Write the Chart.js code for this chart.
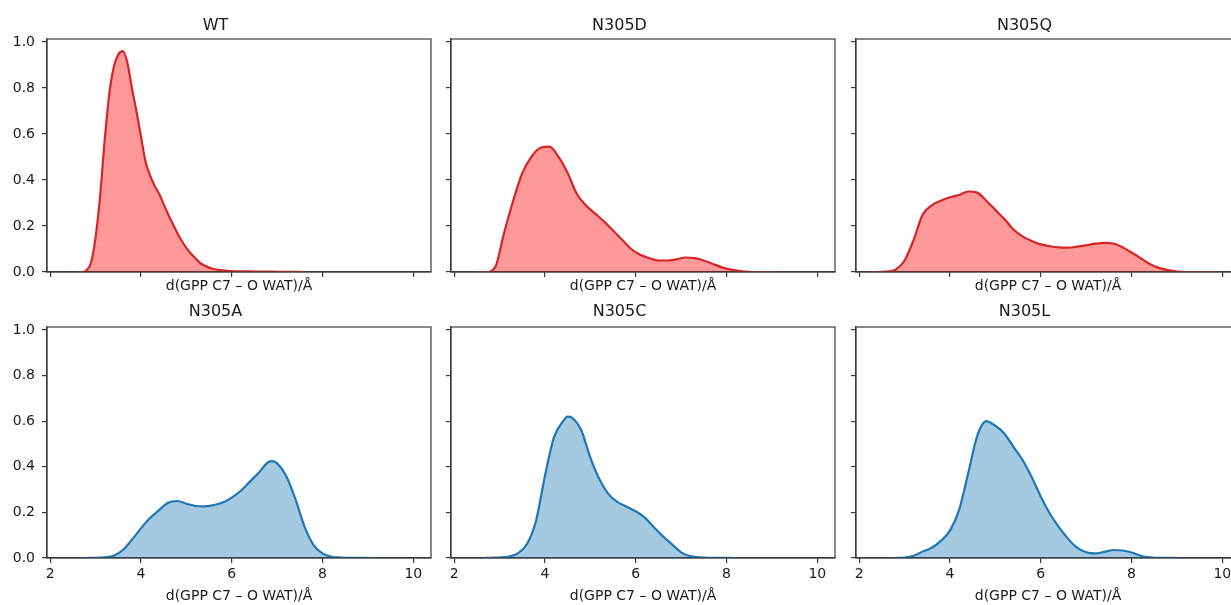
<!DOCTYPE html>
<html><head><meta charset="utf-8">
<script src="https://cdn.jsdelivr.net/npm/chart.js@4/dist/chart.umd.min.js"></script>
<style>
html,body{margin:0;padding:0;background:#fff;overflow:hidden;width:1231px;height:605px;position:relative}
canvas{position:absolute}
</style></head><body>
<script>
// ---- data ----
const titles = ["WT", "N305D", "N305Q", "N305A", "N305C", "N305L"];
const xTicks = [2, 4, 6, 8, 10];
const yTicks = [0, 0.2, 0.4, 0.6, 0.8, 1.0];
const xLabel = "d(GPP C7 – O WAT)/Å";

const wtX = [2.6,2.7,2.8,2.9,3.0,3.1,3.2,3.3,3.4,3.5,3.6,3.7,3.8,3.9,4.0,4.1,4.2,4.3,4.4,4.5,4.6,4.7,4.8,4.9,5.0,5.1,5.2,5.3,5.4,5.5,5.6,5.8,6.0,6.5,7.0,7.6];
const wtY = [0,0,0.008,0.04,0.15,0.33,0.57,0.77,0.89,0.945,0.96,0.91,0.80,0.70,0.59,0.48,0.42,0.375,0.34,0.295,0.25,0.21,0.17,0.135,0.105,0.08,0.06,0.04,0.028,0.019,0.013,0.007,0.004,0.002,0.001,0];

const n305dX = [2.5,2.7,2.9,3.1,3.3,3.5,3.7,3.9,4.1,4.3,4.5,4.7,4.9,5.1,5.3,5.5,5.7,5.9,6.1,6.3,6.5,6.7,6.9,7.1,7.3,7.5,7.7,7.9,8.1,8.3,8.5,8.7,9.05];
const n305dY = [0,0,0.02,0.17,0.31,0.43,0.50,0.54,0.545,0.50,0.43,0.34,0.29,0.255,0.22,0.18,0.14,0.10,0.075,0.06,0.05,0.05,0.055,0.063,0.06,0.05,0.035,0.02,0.01,0.004,0.001,0,0];

const n305qX = [2.25,2.4,2.6,2.8,3.0,3.2,3.4,3.6,3.8,4.0,4.2,4.4,4.6,4.8,5.0,5.2,5.4,5.6,5.8,6.0,6.2,6.4,6.6,6.8,7.0,7.2,7.4,7.6,7.8,8.0,8.2,8.4,8.6,8.8,9.0,9.2,9.9];
const n305qY = [0,0,0.002,0.01,0.05,0.14,0.25,0.29,0.31,0.325,0.335,0.35,0.345,0.31,0.27,0.23,0.185,0.155,0.135,0.12,0.112,0.107,0.106,0.11,0.116,0.123,0.127,0.124,0.108,0.085,0.06,0.035,0.018,0.008,0.002,0,0];

const n305aX = [2.75,3.0,3.2,3.4,3.6,3.8,4.0,4.2,4.4,4.6,4.8,5.0,5.2,5.4,5.6,5.8,6.0,6.2,6.4,6.6,6.8,6.9,7.0,7.2,7.4,7.6,7.8,8.0,8.2,8.4,8.6,9.1];
const n305aY = [0,0.001,0.003,0.01,0.035,0.08,0.13,0.175,0.21,0.242,0.25,0.238,0.228,0.226,0.232,0.243,0.265,0.295,0.335,0.375,0.42,0.425,0.415,0.36,0.26,0.14,0.058,0.02,0.005,0.002,0.001,0];

const n305cX = [2.65,2.8,3.0,3.2,3.4,3.6,3.8,4.0,4.2,4.4,4.5,4.6,4.8,5.0,5.2,5.4,5.6,5.8,6.0,6.2,6.4,6.6,6.8,7.0,7.2,7.4,7.6,8.2];
const n305cY = [0,0.001,0.002,0.006,0.02,0.06,0.16,0.36,0.53,0.60,0.62,0.615,0.56,0.44,0.345,0.28,0.245,0.225,0.205,0.177,0.135,0.095,0.06,0.025,0.008,0.003,0.001,0];

const n305lX = [2.75,3.0,3.2,3.4,3.6,3.8,4.0,4.2,4.4,4.6,4.8,5.0,5.2,5.4,5.6,5.8,6.0,6.2,6.4,6.6,6.8,7.0,7.2,7.4,7.6,7.8,8.0,8.2,8.4,8.6,9.05];
const n305lY = [0,0.002,0.01,0.028,0.045,0.075,0.12,0.21,0.37,0.535,0.60,0.58,0.545,0.487,0.43,0.355,0.27,0.195,0.135,0.085,0.045,0.025,0.02,0.027,0.035,0.033,0.024,0.01,0.003,0.001,0];

const panelX = [wtX, n305dX, n305qX, n305aX, n305cX, n305lX];
const panelY = [wtY, n305dY, n305qY, n305aY, n305cY, n305lY];

// ---- layout / style ----
const RED = {line: '#d42626', fill: 'rgba(255,0,0,0.4)'};
const BLUE = {line: '#1f77b4', fill: 'rgba(31,119,180,0.4)'};
const colLeft = [47, 451, 856];
const plotW = 384;
const TITLE_SIZE = 16, TICK_SIZE = 14, LABEL_SIZE = 14;
const rows = [
  {top: 0, titleTop: 16, titleBottom: 3.8, plotH: 233, axisH: 23},
  {top: 288, titleTop: 14.1, titleBottom: 5.7, plotH: 231, axisH: 47}
];
const YW = 47, RP = 14;
const FONT = "'DejaVu Sans', sans-serif";
const TXT = '#1a1a1a';
const FRAME = '#3a3a3a';

const framePlugin = {
  id: 'frame',
  afterDatasetsDraw(chart) {
    const {ctx, chartArea: a} = chart;
    ctx.save();
    ctx.strokeStyle = FRAME;
    ctx.lineWidth = 1.2;
    ctx.strokeRect(a.left, a.top, a.right - a.left, a.bottom - a.top);
    ctx.restore();
  }
};

for (let i = 0; i < 6; i++) {
  const r = Math.floor(i / 3), c = i % 3;
  const row = rows[r];
  const titleH = Math.round(TITLE_SIZE * 1.2 + row.titleTop + row.titleBottom);
  const cv = document.createElement('canvas');
  const w = YW + plotW + RP;
  const h = titleH + row.plotH + row.axisH;
  cv.width = w; cv.height = h;
  cv.style.left = (colLeft[c] - YW) + 'px';
  cv.style.top = row.top + 'px';
  cv.style.width = w + 'px'; cv.style.height = h + 'px';
  document.body.appendChild(cv);
  const col = r === 0 ? RED : BLUE;
  const xs = panelX[i], ys = panelY[i];
  new Chart(cv, {
    type: 'line',
    data: {
      datasets: [{
        data: xs.map((x, k) => ({x: x, y: ys[k]})),
        borderColor: col.line,
        backgroundColor: col.fill,
        borderWidth: 2.2,
        fill: 'origin',
        pointRadius: 0,
        cubicInterpolationMode: 'monotone'
      }]
    },
    options: {
      responsive: false,
      animation: false,
      layout: {padding: {left: 0, right: RP, top: 0, bottom: 0}},
      plugins: {
        legend: {display: false},
        tooltip: {enabled: false},
        title: {
          display: true, text: titles[i], color: TXT,
          font: {family: FONT, size: TITLE_SIZE, weight: 'normal', lineHeight: 1.2},
          padding: {top: row.titleTop, bottom: row.titleBottom}
        }
      },
      scales: {
        x: {
          type: 'linear', min: 1.93, max: 10.39,
          afterBuildTicks: s => { s.ticks = xTicks.map(v => ({value: v})); },
          afterFit: s => { s.height = row.axisH; },
          ticks: {display: r === 1, color: TXT, padding: 3, font: {family: FONT, size: TICK_SIZE}, callback: v => String(v)},
          grid: {display: true, drawOnChartArea: false, drawTicks: true, tickLength: 5, color: FRAME, lineWidth: 1.2},
          border: {display: true, color: FRAME, width: 1.2},
          title: {display: true, text: xLabel, color: TXT, padding: 0, font: {family: FONT, size: LABEL_SIZE, lineHeight: 1.2}}
        },
        y: {
          type: 'linear', min: 0, max: 1.013,
          afterBuildTicks: s => { s.ticks = yTicks.map(v => ({value: v})); },
          afterFit: s => { s.width = YW; },
          ticks: {display: c === 0, color: TXT, padding: 7, font: {family: FONT, size: TICK_SIZE}, callback: v => v.toFixed(1)},
          grid: {display: true, drawOnChartArea: false, drawTicks: true, tickLength: 5, color: FRAME, lineWidth: 1.2},
          border: {display: true, color: FRAME, width: 1.2}
        }
      }
    },
    plugins: [framePlugin]
  });
}
</script>
</body></html>
